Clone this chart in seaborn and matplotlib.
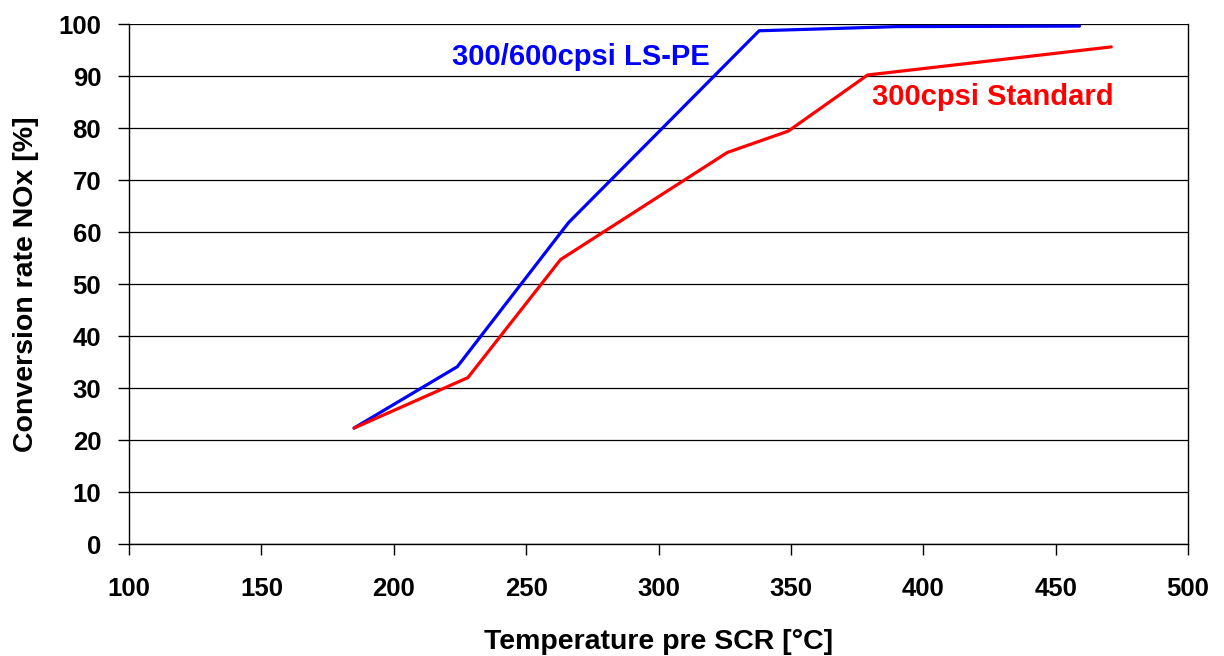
#!/usr/bin/env python3
import matplotlib
matplotlib.use("Agg")
import matplotlib.pyplot as plt
import pandas as pd
import seaborn as sns

lspe_temp = [185, 224, 266, 338, 390, 459]
lspe_conv = [22.3, 34.1, 61.8, 98.7, 99.5, 99.6]

std_temp = [185, 228, 263, 326, 349, 379, 471]
std_conv = [22.3, 32.0, 54.7, 75.3, 79.4, 90.2, 95.6]

x_ticks = [100, 150, 200, 250, 300, 350, 400, 450, 500]
y_ticks = list(range(0, 101, 10))

sns.set_theme(style="white")
plt.rcParams.update(
    {
        "font.family": ["Liberation Sans", "DejaVu Sans"],
        "font.weight": "bold",
        "text.color": "black",
        "axes.labelcolor": "black",
        "xtick.color": "black",
        "ytick.color": "black",
    }
)

df = pd.concat(
    [
        pd.DataFrame({"temp": lspe_temp, "conv": lspe_conv, "cat": "300/600cpsi LS-PE"}),
        pd.DataFrame({"temp": std_temp, "conv": std_conv, "cat": "300cpsi Standard"}),
    ],
    ignore_index=True,
)

fig = plt.figure(figsize=(12.24, 6.56), dpi=100)
ax = fig.add_axes([0.1054, 0.1707, 0.8652, 0.7927])

sns.lineplot(
    data=df, x="temp", y="conv", hue="cat", sort=False,
    palette={"300/600cpsi LS-PE": "#0000ff", "300cpsi Standard": "#ff0000"},
    linewidth=2.3, legend=False, ax=ax,
)

ax.set_xlim(100, 500)
ax.set_ylim(0, 100)
ax.set_xticks(x_ticks)
ax.set_yticks(y_ticks)
ax.tick_params(axis="both", labelsize=18.5, direction="out", length=8, width=1,
               color="black", labelcolor="black", left=True, bottom=True)
ax.tick_params(axis="x", pad=16)
ax.tick_params(axis="y", pad=12)
ax.yaxis.grid(True, color="black", linewidth=0.9)
ax.xaxis.grid(False)
for lbl in ax.get_xticklabels() + ax.get_yticklabels():
    lbl.set_fontweight("bold")
for side in ["left", "bottom", "right"]:
    ax.spines[side].set_color("black")
    ax.spines[side].set_linewidth(1.0)
ax.spines["top"].set_visible(False)

ax.set_xlabel("Temperature pre SCR [°C]", fontsize=20.5, fontweight="bold",
              labelpad=20, color="black")
ax.set_ylabel("Conversion rate NOx [%]", fontsize=20.5, fontweight="bold",
              labelpad=14, color="black")

ax.text(222, 93.7, "300/600cpsi LS-PE", color="#0000ff", fontsize=21,
        fontweight="bold", va="center")
ax.text(380.6, 86.0, "300cpsi Standard", color="#ff0000", fontsize=21,
        fontweight="bold", va="center")

fig.savefig("out.png", dpi=100)
